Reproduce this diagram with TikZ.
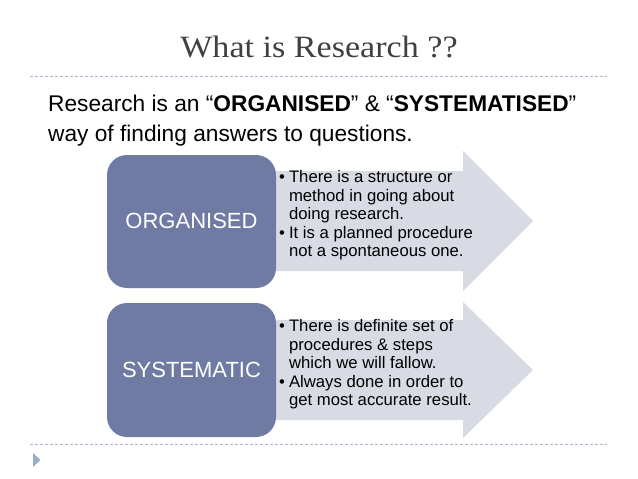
\documentclass[tikz,border=0pt]{standalone}
\usepackage{fontspec}
\setmainfont{Liberation Sans}
\newfontfamily\titlefont{Liberation Serif}
\definecolor{boxblue}{RGB}{111,123,163}
\definecolor{arrowgray}{RGB}{216,219,227}
\definecolor{dashcol}{RGB}{165,184,204}
\definecolor{tricol}{RGB}{150,174,198}
\definecolor{titlecol}{RGB}{64,64,64}
\tikzset{
  keybox/.style={fill=boxblue, draw=none, rounded corners=20pt},
  keytext/.style={text=white, font=\fontsize{22}{24}\selectfont, inner sep=0pt},
  arrowshape/.style={fill=arrowgray, draw=none},
  bullettext/.style={anchor=west, inner sep=0pt, font=\fontsize{16.7}{18.5}\selectfont, align=left},
  sepline/.style={draw=dashcol, line width=0.8pt, dash pattern=on 3pt off 2pt},
  bodytext/.style={anchor=base west, inner sep=0pt, font=\fontsize{22.7}{26}\selectfont}
}
\newcommand{\bulletlist}[2]{\begin{tabular}{@{}l@{\hspace{4pt}}l@{}}\textbullet & \begin{tabular}[t]{@{}l@{}}#1\end{tabular}\\[2pt] \textbullet & \begin{tabular}[t]{@{}l@{}}#2\end{tabular}\end{tabular}}
\begin{document}
\begin{tikzpicture}[x=1pt,y=-1pt]
\useasboundingbox (0,0) rectangle (638,479);
\fill[white] (0,0) rectangle (638,479);
% title
\node[anchor=base, inner sep=0pt, text=titlecol, font=\titlefont\fontsize{31}{34}\selectfont] (title) at (319,57) {\scalebox{1.1}[1]{What is Research ??}};
% separators
\coordinate (s1a) at (30,76); \coordinate (s1b) at (607,76);
\draw[sepline] (s1a) -- (s1b);
\coordinate (s2a) at (30,444); \coordinate (s2b) at (607,444);
\draw[sepline] (s2a) -- (s2b);
\fill[tricol] (33,453) -- (40.5,460) -- (33,467) -- cycle;
% body text
\node[bodytext] (l1) at (48,111) {Research is an “\textbf{ORGANISED}” \& “\textbf{SYSTEMATISED}”};
\node[bodytext] (l2) at (48,141) {way of finding answers to questions.};
% row 1
\fill[arrowshape] (250,171) -- (463,171) -- (463,151) -- (533,221) -- (463,291) -- (463,271) -- (250,271) -- cycle;
\fill[keybox] (107,155) rectangle (276,288);
\node[keytext] (k1) at (191.5,221) {ORGANISED};
\node[bullettext] (b1) at (279,216) {\bulletlist{There is a structure or\\method in going about\\doing research.}{It is a planned procedure\\not a spontaneous one.}};
% row 2
\fill[arrowshape] (250,320) -- (463,320) -- (463,302) -- (533,370) -- (463,438) -- (463,420) -- (250,420) -- cycle;
\fill[keybox] (107,303) rectangle (276,437);
\node[keytext] (k2) at (191.5,370) {SYSTEMATIC};
\node[bullettext] (b2) at (279,365) {\bulletlist{There is definite set of\\procedures \& steps\\which we will fallow.}{Always done in order to\\get most accurate result.}};
\end{tikzpicture}
\end{document}
